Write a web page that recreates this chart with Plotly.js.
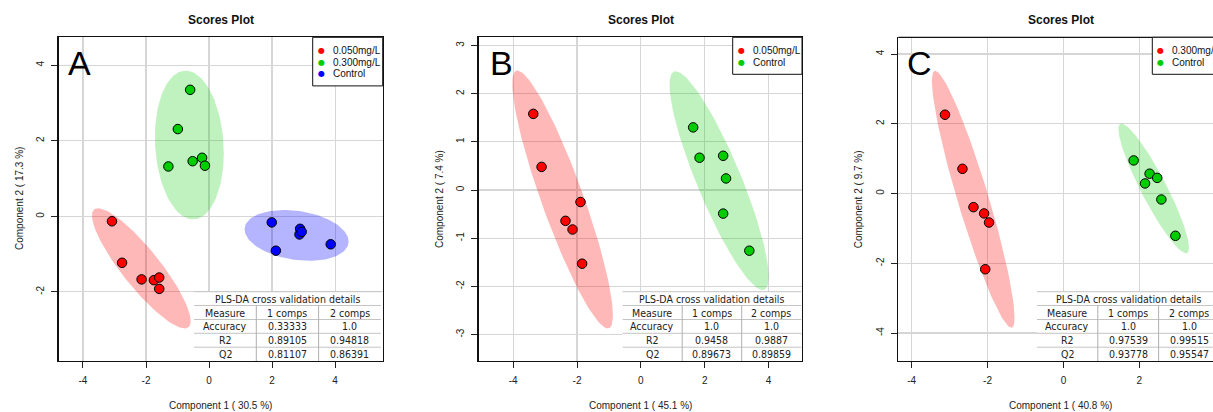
<!DOCTYPE html>
<html><head><meta charset="utf-8">
<script src="https://cdn.plot.ly/plotly-3.0.1.min.js"></script>
<style>html,body{margin:0;padding:0;background:#fff}</style>
</head><body><div id="chart" style="width:1213px;height:412px"></div>
<script>
// ---------- DATA ----------
// Panel A
const groupsA = ['0.050mg/L', '0.300mg/L', 'Control'];
const xA_050 = [-3.08, -2.76, -2.14, -1.75, -1.58, -1.58];
const yA_050 = [-0.13, -1.23, -1.67, -1.69, -1.62, -1.92];
const xA_300 = [-0.60, -0.99, -1.29, -0.52, -0.22, -0.13];
const yA_300 = [3.35, 2.31, 1.32, 1.46, 1.55, 1.34];
const xA_ctl = [1.99, 2.12, 2.89, 2.87, 2.94, 3.86];
const yA_ctl = [-0.16, -0.91, -0.33, -0.48, -0.41, -0.74];
// Panel B
const groupsB = ['0.050mg/L', 'Control'];
const xB_050 = [-3.37, -3.11, -1.89, -2.36, -2.14, -1.84];
const yB_050 = [1.58, 0.48, -0.25, -0.64, -0.82, -1.53];
const xB_ctl = [1.64, 1.84, 2.58, 2.67, 2.58, 3.40];
const yB_ctl = [1.30, 0.67, 0.71, 0.24, -0.49, -1.26];
// Panel C
const groupsC = ['0.300mg/L', 'Control'];
const xC_300 = [-3.12, -2.66, -2.37, -2.09, -1.96, -2.06];
const yC_300 = [2.26, 0.71, -0.39, -0.57, -0.83, -2.17];
const xC_ctl = [1.85, 2.27, 2.47, 2.15, 2.58, 2.95];
const yC_ctl = [0.95, 0.57, 0.45, 0.29, -0.17, -1.21];

const plotTitle = 'Scores Plot';
const panelLetters = ['A', 'B', 'C'];
const xTitles = ['Component 1 ( 30.5 %)', 'Component 1 ( 45.1 %)', 'Component 1 ( 40.8 %)'];
const yTitles = ['Component 2 ( 17.3 %)', 'Component 2 ( 7.4 %)', 'Component 2 ( 9.7 %)'];
const xTicksA = [-4, -2, 0, 2, 4];
const yTicksA = [-2, 0, 2, 4];
const xTicksB = [-4, -2, 0, 2, 4];
const yTicksB = [-3, -2, -1, 0, 1, 2, 3];
const xTicksC = [-4, -2, 0, 2];
const yTicksC = [-4, -2, 0, 2, 4];

// cross validation tables
const tableTitle = 'PLS-DA cross validation details';
const tableHeader = ['Measure', '1 comps', '2 comps'];
const measures = ['Accuracy', 'R2', 'Q2'];
const compA1 = ['0.33333', '0.89105', '0.81107'];
const compA2 = ['1.0', '0.94818', '0.86391'];
const compB1 = ['1.0', '0.9458', '0.89673'];
const compB2 = ['1.0', '0.9887', '0.89859'];
const compC1 = ['1.0', '0.97539', '0.93778'];
const compC2 = ['1.0', '0.99515', '0.95547'];

// ---------- STYLE ----------
const W = 1213, H = 412;
const colRed = '#FF0000', colGreen = 'rgb(0,205,0)', colBlue = '#0000FF';
const fillRed = 'rgba(255,0,0,0.28)', fillGreen = 'rgba(0,205,0,0.25)', fillBlue = 'rgba(0,0,255,0.29)';
const FONT = 'Liberation Sans, Arial, sans-serif';
const TFONT = 'Liberation Sans Narrow, DejaVu Sans Condensed, Liberation Sans, sans-serif';
const px = v => v / W;
const py = v => 1 - v / H;

// 95% confidence ellipse (chi-square, 2 df) from the group points
function ellipse(xs, ys) {
  const n = xs.length;
  const mx = xs.reduce((a, b) => a + b, 0) / n;
  const my = ys.reduce((a, b) => a + b, 0) / n;
  let sxx = 0, syy = 0, sxy = 0;
  for (let i = 0; i < n; i++) {
    const dx = xs[i] - mx, dy = ys[i] - my;
    sxx += dx * dx; syy += dy * dy; sxy += dx * dy;
  }
  sxx /= (n - 1); syy /= (n - 1); sxy /= (n - 1);
  const t = Math.sqrt(5.991464547107979);
  const a = Math.sqrt(sxx), b = sxy / a, c = Math.sqrt(Math.max(syy - b * b, 0));
  const ex = [], ey = [];
  for (let k = 0; k <= 120; k++) {
    const th = 2 * Math.PI * k / 120, u = Math.cos(th), v = Math.sin(th);
    ex.push(mx + t * a * u);
    ey.push(my + t * (b * u + c * v));
  }
  return [ex, ey];
}

const traces = [];
function addGroup(xs, ys, col, fill, xa, ya, name) {
  const [ex, ey] = ellipse(xs, ys);
  traces.push({x: ex, y: ey, xaxis: xa, yaxis: ya, type: 'scatter', mode: 'lines',
    line: {width: 0, color: fill}, fill: 'toself', fillcolor: fill, hoverinfo: 'skip', showlegend: false});
  traces.push({x: xs, y: ys, xaxis: xa, yaxis: ya, type: 'scatter', mode: 'markers', name: name,
    marker: {size: 9.5, color: col, line: {color: '#000', width: 1}}, showlegend: false});
}
addGroup(xA_050, yA_050, colRed, fillRed, 'x', 'y', groupsA[0]);
addGroup(xA_300, yA_300, colGreen, fillGreen, 'x', 'y', groupsA[1]);
addGroup(xA_ctl, yA_ctl, colBlue, fillBlue, 'x', 'y', groupsA[2]);
addGroup(xB_050, yB_050, colRed, fillRed, 'x2', 'y2', groupsB[0]);
addGroup(xB_ctl, yB_ctl, colGreen, fillGreen, 'x2', 'y2', groupsB[1]);
addGroup(xC_300, yC_300, colRed, fillRed, 'x3', 'y3', groupsC[0]);
addGroup(xC_ctl, yC_ctl, colGreen, fillGreen, 'x3', 'y3', groupsC[1]);

function axis(domain, range, ticks, anchor, isY, mirror) {
  return {
    domain: domain, range: range, anchor: anchor,
    tickmode: 'array', tickvals: ticks, ticktext: ticks.map(String),
    showgrid: true, gridcolor: '#d6d6d6', gridwidth: 1.2, zeroline: false,
    showline: true, linecolor: '#111', linewidth: 1.3, mirror: mirror,
    ticks: 'outside', ticklen: 6, tickwidth: 1, tickcolor: '#222',
    tickfont: {family: FONT, size: 10, color: '#222'},
    ticklabelstandoff: isY ? 3 : 4, tickangle: isY ? -90 : 0, fixedrange: true
  };
}

// plot area pixel boxes
const yDom = [py(361), py(37.3)];
const layout = {
  width: W, height: H, margin: {l: 0, r: 0, t: 0, b: 0, autoexpand: false},
  paper_bgcolor: '#fff', plot_bgcolor: '#fff', showlegend: false,
  font: {family: FONT, color: '#222'},
  xaxis: axis([px(58.7), px(382.7)], [-4.77, 5.51], xTicksA, 'y', false, true),
  yaxis: axis(yDom, [-3.83, 4.74], yTicksA, 'x', true, true),
  xaxis2: axis([px(478.7), px(802)], [-5.08, 5.05], xTicksB, 'y2', false, true),
  yaxis2: axis(yDom, [-3.55, 3.17], yTicksB, 'x2', true, true),
  xaxis3: axis([px(898.3), 1], [-4.35, 3.94], xTicksC, 'y3', false, false),
  yaxis3: axis(yDom, [-4.80, 4.48], yTicksC, 'x3', true, false),
  shapes: [], annotations: []
};
// top border of panel C (its right side is cut off)
layout.shapes.push({type: 'line', xref: 'paper', yref: 'paper', x0: px(898.3), x1: 1, y0: py(37.3), y1: py(37.3),
  line: {color: '#111', width: 1.3}, layer: 'above'});

const centers = [220.7, 640.7, 1060.5];
const yTitleX = [19, 439, 858.3];
const letterPos = [[79, 63], [501, 63], [919.6, 63]];
for (let i = 0; i < 3; i++) {
  layout.annotations.push({text: '<b>' + plotTitle + '</b>', xref: 'paper', yref: 'paper', x: px(centers[i]), y: py(20),
    showarrow: false, xanchor: 'center', yanchor: 'middle', font: {family: FONT, size: 12, color: '#111'}});
  layout.annotations.push({text: xTitles[i], xref: 'paper', yref: 'paper', x: px(centers[i]), y: py(405),
    showarrow: false, xanchor: 'center', yanchor: 'middle', font: {family: FONT, size: 10, color: '#222'}});
  layout.annotations.push({text: yTitles[i], xref: 'paper', yref: 'paper', x: px(yTitleX[i]), y: py(199),
    showarrow: false, textangle: -90, xanchor: 'center', yanchor: 'middle', font: {family: FONT, size: 10, color: '#222'}});
  layout.annotations.push({text: panelLetters[i], xref: 'paper', yref: 'paper', x: px(letterPos[i][0]), y: py(letterPos[i][1]),
    showarrow: false, xanchor: 'center', yanchor: 'middle', font: {family: FONT, size: 34, color: '#000'}});
}

// legends
function legend(x0, x1, names, cols) {
  const y0 = 37.3, rowH = 11.6, y1 = y0 + 13.4 + rowH * (names.length - 1) + 12;
  layout.shapes.push({type: 'rect', xref: 'paper', yref: 'paper', x0: px(x0), x1: px(x1), y0: py(y0), y1: py(y1),
    line: {color: '#111', width: 1}, fillcolor: '#fff', layer: 'above'});
  names.forEach((nm, k) => {
    const yy = y0 + 13.4 + rowH * k;
    layout.annotations.push({text: '●', xref: 'paper', yref: 'paper', x: px(x0 + 8.5), y: py(yy),
      showarrow: false, xanchor: 'center', yanchor: 'middle', font: {family: 'DejaVu Sans', size: 8, color: cols[k]}});
    layout.annotations.push({text: nm, xref: 'paper', yref: 'paper', x: px(x0 + 18), y: py(yy),
      showarrow: false, xanchor: 'left', yanchor: 'middle', font: {family: FONT, size: 10, color: '#111'}});
  });
}
legend(312.7, 382.7, groupsA, [colRed, colGreen, colBlue]);
legend(732.7, 802, groupsB, [colRed, colGreen]);
legend(1152.3, 1222, groupsC, [colRed, colGreen]);

// cross-validation tables
function table(x0, cw, right, c1, c2) {
  const top = 291.7, rows = [291.7, 305.5, 319.5, 333.3, 347.2, 361];
  const x1 = Math.min(right, x0 + 3 * cw);
  layout.shapes.push({type: 'rect', xref: 'paper', yref: 'paper', x0: px(x0), x1: px(x1), y0: py(top), y1: py(361),
    line: {width: 0}, fillcolor: '#fff', layer: 'above'});
  for (let r = 0; r < rows.length - 1; r++) {
    layout.shapes.push({type: 'line', xref: 'paper', yref: 'paper', x0: px(x0), x1: px(x1), y0: py(rows[r]), y1: py(rows[r]),
      line: {color: '#c4c4c4', width: 1}, layer: 'above'});
  }
  for (let c = 1; c < 3; c++) {
    const xx = x0 + c * cw;
    layout.shapes.push({type: 'line', xref: 'paper', yref: 'paper', x0: px(xx), x1: px(xx), y0: py(rows[1]), y1: py(361),
      line: {color: '#b0b0b0', width: 1}, layer: 'above'});
  }
  layout.annotations.push({text: tableTitle, xref: 'paper', yref: 'paper', x: px(x0 + 1.5 * cw), y: py((rows[0] + rows[1]) / 2),
    showarrow: false, xanchor: 'center', yanchor: 'middle', font: {family: TFONT, size: 10.5, color: '#222'}});
  const cols = [[tableHeader[0]].concat(measures), [tableHeader[1]].concat(c1), [tableHeader[2]].concat(c2)];
  cols.forEach((col, c) => {
    col.forEach((txt, r) => {
      layout.annotations.push({text: txt, xref: 'paper', yref: 'paper', x: px(x0 + (c + 0.5) * cw),
        y: py((rows[r + 1] + rows[r + 2]) / 2), showarrow: false, xanchor: 'center', yanchor: 'middle',
        font: {family: TFONT, size: 10.5, color: '#222'}});
    });
  });
}
table(194, 62.3, 382, compA1, compA2);
table(622.7, 59.5, 801.5, compB1, compB2);
table(1037, 60.8, 1213, compC1, compC2);

Plotly.newPlot('chart', traces, layout, {displayModeBar: false, staticPlot: true});
</script>
</body></html>
